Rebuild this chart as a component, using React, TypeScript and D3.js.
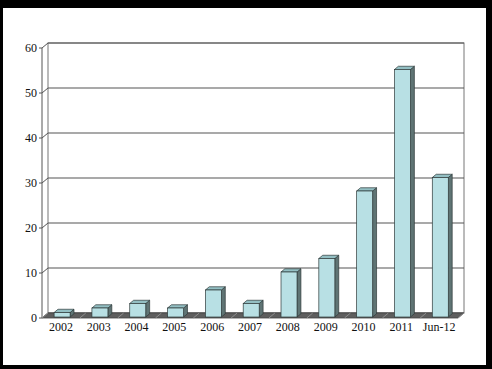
import React from "react";
import * as d3 from "d3";

const categories = ["2002", "2003", "2004", "2005", "2006", "2007", "2008", "2009", "2010", "2011", "Jun-12"];
const values = [1, 2, 3, 2, 6, 3, 10, 13, 28, 55, 31];
const yTicks = [0, 10, 20, 30, 40, 50, 60];

const W = 492;
const H = 369;
const DX = 6;
const DY = -5;

export default function App() {
  const x = d3.scaleBand<string>().domain(categories).range([42, 458]).paddingInner(0).paddingOuter(0);
  const y = d3.scaleLinear().domain([0, 60]).range([318, 48]);
  const barW = 16;
  const t0 = 0.2;
  const t1 = 0.85;
  const font = "'Liberation Serif', 'DejaVu Serif', serif";

  const floorY = y(0);
  const floor = `M${42},${floorY} L${42 + DX},${floorY + DY} L${458 + DX},${floorY + DY} L${458},${floorY} Z`;

  return (
    <svg width={W} height={H} style={{ position: "fixed", left: 0, top: 0 }}>
      <rect x={0} y={0} width={W} height={H} fill="#000" />
      <rect x={3} y={8} width={483} height={357} fill="#fff" />
      {/* back wall */}
      <rect x={42 + DX} y={y(60) + DY} width={416} height={y(0) - y(60)} fill="#fff" stroke="#777" strokeWidth={1} />
      {/* gridlines */}
      {yTicks.map((v) => (
        <g key={v}>
          <line x1={42 + DX} x2={458 + DX} y1={y(v) + DY} y2={y(v) + DY} stroke="#555" strokeWidth={1.2} />
          <line x1={42} x2={42 + DX} y1={y(v)} y2={y(v) + DY} stroke="#555" strokeWidth={1} />
          <line x1={39} x2={42} y1={y(v)} y2={y(v)} stroke="#555" strokeWidth={1} />
          <text x={37} y={y(v)} dy="0.35em" textAnchor="end" fontFamily={font} fontSize={12} fill="#111">
            {v}
          </text>
        </g>
      ))}
      {/* left axis */}
      <line x1={42} x2={42} y1={y(60)} y2={y(0)} stroke="#555" strokeWidth={1} />
      {/* floor */}
      <path d={floor} fill="#5e5e5e" stroke="#444" strokeWidth={0.8} />
      {categories.map((c) => (
        <line key={c} x1={x(c)!} x2={x(c)! + DX} y1={floorY} y2={floorY + DY} stroke="#999" strokeWidth={0.8} />
      ))}
      <line x1={458} x2={458 + DX} y1={floorY} y2={floorY + DY} stroke="#999" strokeWidth={0.8} />
      {/* bars */}
      {categories.map((c, i) => {
        const cx = x(c)! + x.bandwidth() / 2;
        const fx = cx - barW / 2 + DX * t0;
        const fy0 = y(0) + DY * t0;
        const fy1 = y(values[i]) + DY * t0;
        const bdx = DX * (t1 - t0);
        const bdy = DY * (t1 - t0);
        const top = `M${fx},${fy1} L${fx + bdx},${fy1 + bdy} L${fx + barW + bdx},${fy1 + bdy} L${fx + barW},${fy1} Z`;
        const side = `M${fx + barW},${fy1} L${fx + barW + bdx},${fy1 + bdy} L${fx + barW + bdx},${fy0 + bdy} L${fx + barW},${fy0} Z`;
        return (
          <g key={c}>
            <path d={side} fill="#5f7474" stroke="#2e3a3a" strokeWidth={0.7} />
            <path d={top} fill="#93bfc3" stroke="#2e3a3a" strokeWidth={0.7} />
            <rect x={fx} y={fy1} width={barW} height={fy0 - fy1} fill="#b8e0e4" stroke="#2e3a3a" strokeWidth={0.7} />
          </g>
        );
      })}
      {/* x labels */}
      {categories.map((c) => (
        <text key={c} x={x(c)! + x.bandwidth() / 2} y={331} textAnchor="middle" fontFamily={font} fontSize={12} fill="#111">
          {c}
        </text>
      ))}
    </svg>
  );
}
